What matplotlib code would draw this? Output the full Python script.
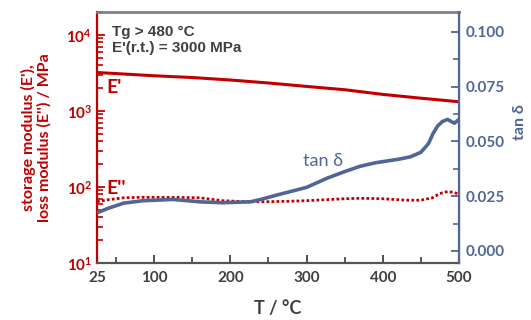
"""
DMA curves: storage/loss modulus (log, left) and tan delta (right) vs temperature
"""
import numpy as np
import matplotlib
matplotlib.use('Agg')
import matplotlib.pyplot as plt
from matplotlib.ticker import FixedLocator, FuncFormatter

plt.rcParams['font.family'] = ['Lato', 'DejaVu Sans']
plt.rcParams['mathtext.fontset'] = 'custom'
plt.rcParams['mathtext.rm'] = 'Lato'
plt.rcParams['mathtext.bf'] = 'Lato:bold'

RED = '#c00000'
BLUE = '#4f6696'
GREY = '#404040'

# storage modulus E' (MPa)
t_storage = [25, 50, 100, 150, 200, 250, 300, 350, 400, 450, 500]
e_storage = [3200, 3100, 2900, 2750, 2550, 2330, 2100, 1900, 1650, 1470, 1320]

# loss modulus E'' (MPa)
t_loss = [25, 40, 60, 80, 100, 130, 160, 190, 220, 250, 280, 300, 350, 370,
          400, 430, 450, 465, 475, 485, 492, 500]
e_loss = [64, 68, 72, 73, 73, 73, 72, 66, 64, 64, 65, 66, 70, 71,
          70, 67, 67, 72, 82, 87, 85, 81]

# tan delta
t_tan = [25, 40, 60, 85, 125, 160, 190, 226, 240, 261, 280, 300, 327, 350,
         370, 390, 405, 420, 436, 450, 460, 466, 472, 478, 485, 490, 494, 500]
tan_d = [0.0174, 0.0195, 0.0218, 0.0229, 0.0235, 0.0224, 0.0220, 0.0224,
         0.0235, 0.0255, 0.0272, 0.0290, 0.0332, 0.0362, 0.0386, 0.0402,
         0.0410, 0.0418, 0.0429, 0.0450, 0.0490, 0.0536, 0.0570, 0.0590,
         0.0600, 0.0590, 0.0583, 0.0600]

x_ticks = [25, 100, 200, 300, 400, 500]
x_minor = [50, 150, 250, 350, 450]
tan_ticks = [0.000, 0.025, 0.050, 0.075, 0.100]
tan_minor = [0.0125, 0.0375, 0.0625, 0.0875]

fig = plt.figure(figsize=(5.31, 3.2), dpi=100)
ax1 = fig.add_axes([97/531, 1-263/320, (459-97)/531, (263-12)/320])
ax2 = ax1.twinx()

ax1.plot(t_storage, e_storage, color=RED, lw=2.2)
ax1.plot(t_loss, e_loss, color=RED, lw=2.0, linestyle=(0, (1, 0.8)))
ax2.plot(t_tan, tan_d, color=BLUE, lw=2.6)

ax1.set_yscale('log')
ax1.set_ylim(10, 2e4)
ax1.set_xlim(25, 500)
ax2.set_ylim(-0.0055, 0.109)

ax1.xaxis.set_major_locator(FixedLocator(x_ticks))
ax1.xaxis.set_minor_locator(FixedLocator(x_minor))
ax1.yaxis.set_major_formatter(
    FuncFormatter(lambda v, _: r'$\mathbf{10^{%d}}$' % round(np.log10(v))))
ax2.yaxis.set_major_locator(FixedLocator(tan_ticks))
ax2.yaxis.set_minor_locator(FixedLocator(tan_minor))
ax2.yaxis.set_major_formatter(FuncFormatter(lambda v, _: f'{v:.3f}'))

ax1.tick_params(axis='x', which='both', direction='in', colors=GREY,
                labelsize=11, pad=6)
ax1.tick_params(axis='x', which='major', length=6, width=1.3)
ax1.tick_params(axis='x', which='minor', length=4, width=1.2)
ax1.tick_params(axis='y', which='both', direction='in', colors=RED,
                labelsize=11)
ax1.tick_params(axis='y', which='major', length=6, width=1.3)
ax1.tick_params(axis='y', which='minor', length=4, width=1.2)
ax2.tick_params(axis='y', which='both', direction='in', colors=BLUE,
                labelsize=11, pad=5)
ax2.tick_params(axis='y', which='major', length=6, width=1.3)
ax2.tick_params(axis='y', which='minor', length=4, width=1.2)
for lab in ax1.get_xticklabels() + ax1.get_yticklabels() + ax2.get_yticklabels():
    lab.set_fontweight('bold')

ax1.spines['left'].set_color(RED)
ax1.spines['left'].set_linewidth(1.6)
ax1.spines['bottom'].set_color('#555555')
ax1.spines['bottom'].set_linewidth(1.6)
ax1.spines['top'].set_color('#808080')
ax1.spines['top'].set_linewidth(2)
ax2.spines['right'].set_color(BLUE)
ax2.spines['right'].set_linewidth(1.6)
ax2.spines['top'].set_visible(False)
ax2.spines['left'].set_visible(False)
ax2.spines['bottom'].set_visible(False)

ax1.set_xlabel('T / °C', fontsize=13, fontweight='bold', color=GREY)
ax1.xaxis.set_label_coords(0.5, -0.148)
ax1.set_ylabel("storage modulus (E'),\nloss modulus (E'') / MPa",
               fontsize=11.5, fontweight='bold', color=RED, linespacing=1.15)
ax1.yaxis.set_label_coords(-0.125, 0.5)
ax2.set_ylabel('tan δ', fontsize=11.5, fontweight='bold', color=BLUE)
ax2.yaxis.set_label_coords(1.148, 0.56)

ax1.text(0.042, 0.95, 'Tg > 480 °C\nE\'(r.t.) = 3000 MPa', transform=ax1.transAxes,
         fontsize=11, fontweight='bold', color=GREY, va='top', linespacing=1.2,
         family='Liberation Sans')
ax1.text(0.025, 0.70, "E'", transform=ax1.transAxes, fontsize=14,
         fontweight='bold', color=RED, va='center')
ax1.text(0.025, 0.295, "E''", transform=ax1.transAxes, fontsize=14,
         fontweight='bold', color=RED, va='center')
ax1.text(0.57, 0.405, 'tan δ', transform=ax1.transAxes, fontsize=13,
         color=BLUE, va='center')

plt.savefig('out.png', dpi=100)
